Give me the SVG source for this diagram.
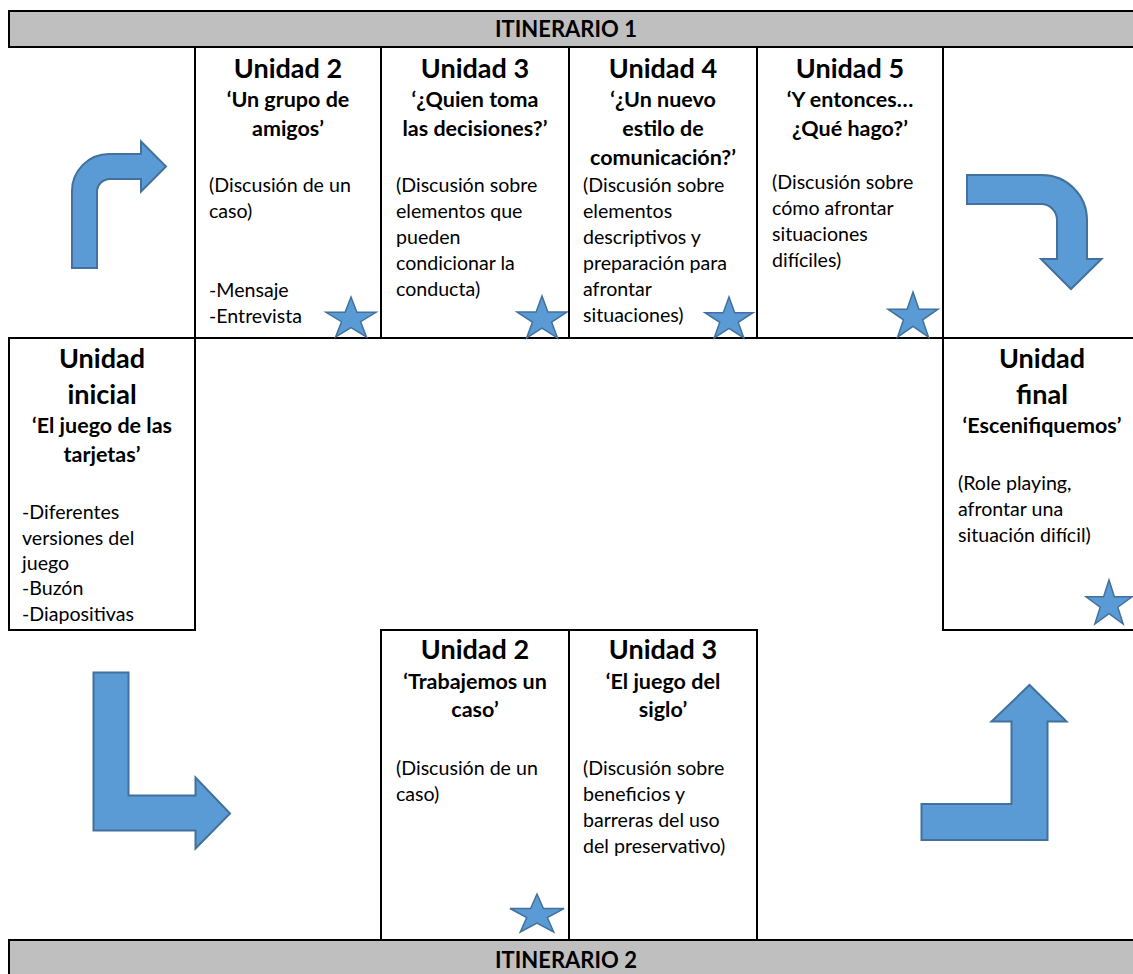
<svg xmlns="http://www.w3.org/2000/svg" width="1133" height="974" viewBox="0 0 1133 974">
<style>
.cell{fill:#fff;stroke:#000;stroke-width:2}
.hdr{fill:#BFBFBF;stroke:#000;stroke-width:2}
.t{font-family:Lato,"Liberation Sans",sans-serif;fill:#000}
.u{font-size:27px;font-weight:bold;text-anchor:middle}
.s{font-size:21.5px;font-weight:bold;text-anchor:middle}
.b{font-size:19.6px}
.h{font-size:22px;font-weight:bold;text-anchor:middle}
.star{fill:#5B9BD5;stroke:#41719C;stroke-width:1.5}
.arrow{fill:#5B9BD5;stroke:#41719C;stroke-width:2}
</style>
<g id="itinerario1">
<rect class="hdr" x="9" y="11" width="1130" height="36"/>
<text class="t h" x="566" y="37">ITINERARIO 1</text>
</g>
<g id="top-u2">
<rect class="cell" x="195" y="47" width="186" height="291"/>
<text class="t u" x="288" y="78">Unidad 2</text>
<text class="t s" x="288" y="107">‘Un grupo de</text>
<text class="t s" x="288" y="136">amigos’</text>
<text class="t b" x="209" y="192">(Discusión de un</text>
<text class="t b" x="209" y="218">caso)</text>
<text class="t b" x="209" y="297">-Mensaje</text>
<text class="t b" x="209" y="323">-Entrevista</text>
<polygon class="star" points="351,297 356.9,312.3 376,312.3 360.6,321.7 366.5,337 351,327.6 335.6,337 341.5,321.7 326,312.3 345.1,312.3"/>
</g>
<g id="top-u3">
<rect class="cell" x="381" y="47" width="188" height="291"/>
<text class="t u" x="475" y="78">Unidad 3</text>
<text class="t s" x="475" y="107">‘¿Quien toma</text>
<text class="t s" x="475" y="136">las decisiones?’</text>
<text class="t b" x="396" y="192">(Discusión sobre</text>
<text class="t b" x="396" y="218">elementos que</text>
<text class="t b" x="396" y="244">pueden</text>
<text class="t b" x="396" y="270">condicionar la</text>
<text class="t b" x="396" y="296">conducta)</text>
<polygon class="star" points="542,296 547.9,312 567,312 551.6,322 557.5,338 542,328.1 526.6,338 532.5,322 517,312 536.1,312"/>
</g>
<g id="top-u4">
<rect class="cell" x="569" y="47" width="188" height="291"/>
<text class="t u" x="663" y="78">Unidad 4</text>
<text class="t s" x="663" y="107">‘¿Un nuevo</text>
<text class="t s" x="663" y="136">estilo de</text>
<text class="t s" x="663" y="165">comunicación?’</text>
<text class="t b" x="583" y="192">(Discusión sobre</text>
<text class="t b" x="583" y="218">elementos</text>
<text class="t b" x="583" y="244">descriptivos y</text>
<text class="t b" x="583" y="270">preparación para</text>
<text class="t b" x="583" y="296">afrontar</text>
<text class="t b" x="583" y="322">situaciones)</text>
<polygon class="star" points="729,297 734.7,312.7 753,312.7 738.2,322.3 743.8,338 729,328.3 714.2,338 719.8,322.3 705,312.7 723.3,312.7"/>
</g>
<g id="top-u5">
<rect class="cell" x="757" y="47" width="186" height="291"/>
<text class="t u" x="850" y="78">Unidad 5</text>
<text class="t s" x="850" y="107">‘Y entonces…</text>
<text class="t s" x="850" y="136">¿Qué hago?’</text>
<text class="t b" x="772" y="189">(Discusión sobre</text>
<text class="t b" x="772" y="215">cómo afrontar</text>
<text class="t b" x="772" y="241">situaciones</text>
<text class="t b" x="772" y="267">difíciles)</text>
<polygon class="star" points="913,292 918.9,309.2 938,309.2 922.6,319.8 928.5,337 913,326.4 897.6,337 903.5,319.8 888,309.2 907.1,309.2"/>
</g>
<g id="top-right-edge">
<line x1="943" y1="47" x2="943" y2="338" stroke="#000" stroke-width="2"/>
</g>
<g id="unidad-inicial">
<rect class="cell" x="9" y="338" width="186" height="292"/>
<text class="t u" x="102" y="368">Unidad</text>
<text class="t u" x="102" y="404">inicial</text>
<text class="t s" x="102" y="433">‘El juego de las</text>
<text class="t s" x="102" y="462">tarjetas’</text>
<text class="t b" x="22" y="519">-Diferentes</text>
<text class="t b" x="22" y="545">versiones del</text>
<text class="t b" x="22" y="570">juego</text>
<text class="t b" x="22" y="595">-Buzón</text>
<text class="t b" x="22" y="621">-Diapositivas</text>
</g>
<g id="unidad-final">
<rect class="cell" x="943" y="338" width="200" height="292"/>
<text class="t u" x="1042" y="368">Unidad</text>
<text class="t u" x="1042" y="404">final</text>
<text class="t s" x="1042" y="433">‘Escenifiquemos’</text>
<text class="t b" x="958" y="490">(Role playing,</text>
<text class="t b" x="958" y="516">afrontar una</text>
<text class="t b" x="958" y="542">situación difícil)</text>
<polygon class="star" points="1109,580 1114.4,596.8 1132,596.8 1117.8,607.2 1123.2,624 1109,613.6 1094.8,624 1100.2,607.2 1086,596.8 1103.6,596.8"/>
</g>
<g id="bottom-u2">
<rect class="cell" x="381" y="630" width="188" height="310"/>
<text class="t u" x="475" y="659">Unidad 2</text>
<text class="t s" x="475" y="689">‘Trabajemos un</text>
<text class="t s" x="475" y="717">caso’</text>
<text class="t b" x="396" y="775">(Discusión de un</text>
<text class="t b" x="396" y="801">caso)</text>
<polygon class="star" points="537,894 543.4,908.5 564,908.5 547.3,917.5 553.7,932 537,923 520.3,932 526.7,917.5 510,908.5 530.6,908.5"/>
</g>
<g id="bottom-u3">
<rect class="cell" x="569" y="630" width="188" height="310"/>
<text class="t u" x="663" y="659">Unidad 3</text>
<text class="t s" x="663" y="689">‘El juego del</text>
<text class="t s" x="663" y="717">siglo’</text>
<text class="t b" x="583" y="775">(Discusión sobre</text>
<text class="t b" x="583" y="801">beneficios y</text>
<text class="t b" x="583" y="827">barreras del uso</text>
<text class="t b" x="583" y="853">del preservativo)</text>
</g>
<g id="itinerario2">
<rect class="hdr" x="9" y="940" width="1130" height="40"/>
<text class="t h" x="566" y="968">ITINERARIO 2</text>
</g>
<g id="connectors">
<path class="arrow" d="M72,268 L72,191 A37,37 0 0 1 109,154 L141,154 L141,141.5 L166,166.5 L141,191.5 L141,179 L110,179 A13,13 0 0 0 97,192 L97,268 Z"/>
<path class="arrow" d="M967,175 L1042,175 A45,45 0 0 1 1087,220 L1087,259 L1101.5,259 L1071,289 L1041,259 L1057,259 L1057,220 A16,16 0 0 0 1041,204 L967,204 Z"/>
<path class="arrow" d="M93.5,672.5 L128.5,672.5 L128.5,795.5 L195.5,795.5 L195.5,777.5 L230,813.5 L195.5,848.5 L195.5,830.5 L93.5,830.5 Z"/>
<path class="arrow" d="M921.5,840 L1047.5,840 L1047.5,721.5 L1066.5,721.5 L1029.5,685 L991.5,721.5 L1011.5,721.5 L1011.5,804 L921.5,804 Z"/>
</g>
</svg>
